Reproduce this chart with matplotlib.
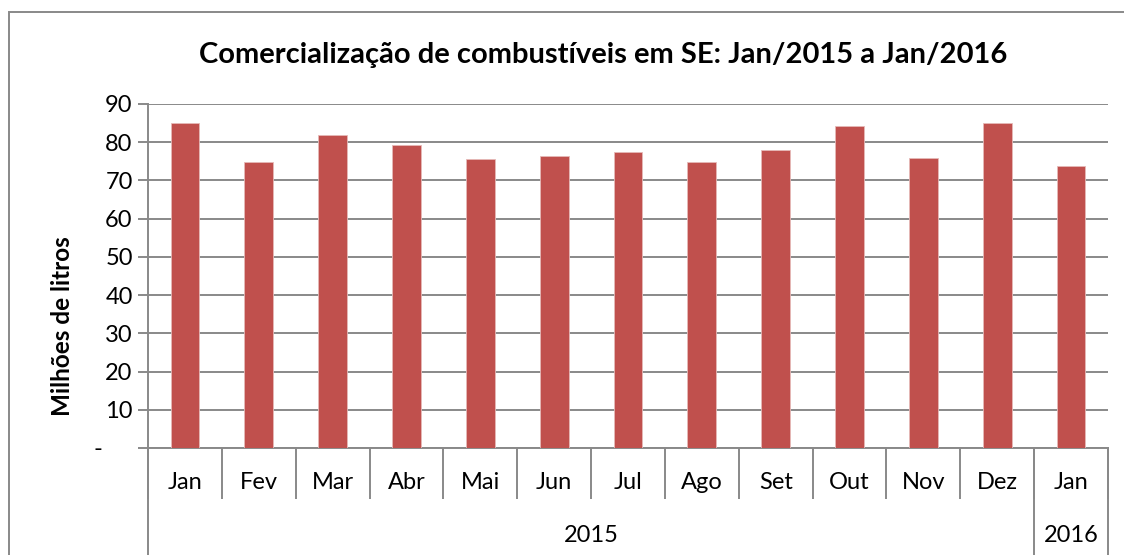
import matplotlib.pyplot as plt
from matplotlib.patches import Rectangle

meses = ["Jan", "Fev", "Mar", "Abr", "Mai", "Jun", "Jul", "Ago", "Set", "Out", "Nov", "Dez", "Jan"]
valores = [85.0, 74.7, 81.9, 79.2, 75.5, 76.3, 77.5, 74.7, 78.0, 84.3, 75.9, 84.9, 73.8]
anos = ["2015", "2016"]
meses_por_ano = [12, 1]
y_ticks = [0, 10, 20, 30, 40, 50, 60, 70, 80, 90]
y_labels = ["-     ", "10", "20", "30", "40", "50", "60", "70", "80", "90"]

cinza = "#898989"
plt.rcParams["font.family"] = ["Lato", "DejaVu Sans"]

W, H = 1124, 555
fig = plt.figure(figsize=(W / 100, H / 100), dpi=100)
ax = fig.add_axes([148 / W, (H - 448) / H, 960 / W, 344 / H])

x = list(range(len(meses)))
ax.bar(x, valores, width=0.39, color="#C0504D", edgecolor="#E6B9B8", linewidth=0.6, zorder=3)
ax.set_xlim(-0.5, len(meses) - 0.5)
ax.set_ylim(0, 90)

ax.set_yticks(y_ticks)
ax.set_yticklabels(y_labels, fontsize=17)
ax.yaxis.grid(True, color=cinza, linewidth=1.4, zorder=0)
ax.tick_params(axis="y", length=7, width=1.4, color=cinza, pad=4)

for s in ["top", "right"]:
    ax.spines[s].set_visible(False)
for s in ["left", "bottom"]:
    ax.spines[s].set_color(cinza)
    ax.spines[s].set_linewidth(1.4)

ax.set_xticks(x)
ax.set_xticklabels(meses, fontsize=17)
ax.tick_params(axis="x", which="major", length=0, pad=17)
ax.set_xticks([i - 0.5 for i in range(len(meses) + 1)], minor=True)
ax.tick_params(axis="x", which="minor", length=37, width=1.4, color=cinza)

# segunda linha do eixo: anos
baixo = -(H - 448) / 344
limites = [-0.5]
for n in meses_por_ano:
    limites.append(limites[-1] + n)
tr = ax.get_xaxis_transform()
for b in limites:
    ax.plot([b, b], [0, baixo], color=cinza, linewidth=1.4, transform=tr, clip_on=False)
for i, ano in enumerate(anos):
    centro = (limites[i] + limites[i + 1]) / 2
    ax.text(centro, -(535 - 448) / 344, ano, transform=tr, ha="center", va="center", fontsize=17)

fig.text(603 / W, 1 - 55 / H, "Comercialização de combustíveis em SE: Jan/2015 a Jan/2016",
         ha="center", va="center", fontsize=21, fontweight="bold")
fig.text(62 / W, 1 - 326 / H, "Milhões de litros", rotation=90, ha="center", va="center",
         fontsize=17.5, fontweight="bold")

fig.add_artist(Rectangle((9 / W, -0.1), 1.2, 1.1 - 11.5 / H, fill=False,
                         edgecolor=cinza, linewidth=1.4, transform=fig.transFigure))

fig.savefig("out.png", dpi=100)
